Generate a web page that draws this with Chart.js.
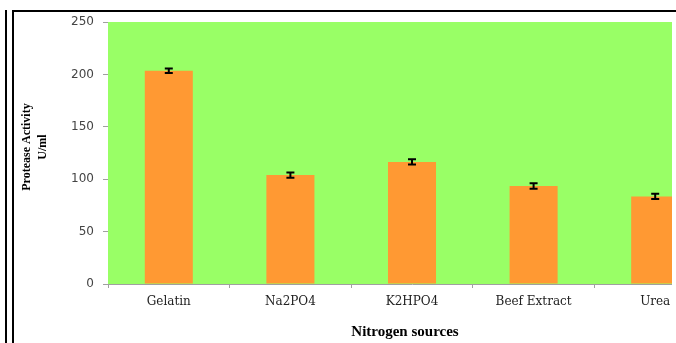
<!DOCTYPE html>
<html>
<head>
<meta charset="utf-8">
<script src="https://cdn.jsdelivr.net/npm/chart.js@4"></script>
<style>
    body { margin: 0; background: #fff; overflow: hidden; }
    #wrap { position: absolute; left: 0; top: 0; width: 672px; height: 343px; overflow: hidden; }
    #myChart { position: absolute; left: 0; top: 0; }
    .rule { position: absolute; background: #000; }
</style>
</head>
<body>
<div id="wrap"><canvas id="myChart" width="716" height="343"></canvas></div>
<div class="rule" style="left:5px;top:10px;width:2px;height:333px"></div>
<div class="rule" style="left:12px;top:10px;width:2px;height:333px"></div>
<div class="rule" style="left:12px;top:10px;width:664px;height:2px"></div>
<script>
// nitrogen sources vs protease activity
const sources = ["Gelatin", "Na2PO4", "K2HPO4", "Beef Extract", "Urea"]
const activity = [203.5, 104, 116.5, 93.5, 83.5]
const errors = [2.2, 2.5, 2.5, 2.7, 2.5]
const yTicks = [0, 50, 100, 150, 200, 250]

const plotBg = {
    id: 'plotBg',
    beforeDatasetsDraw(chart) {
        const { ctx, chartArea } = chart
        ctx.save()
        ctx.fillStyle = '#99ff66'
        ctx.fillRect(chartArea.left, chartArea.top, chartArea.right - chartArea.left, chartArea.bottom - chartArea.top)
        ctx.restore()
    }
}

const errorBars = {
    id: 'errorBars',
    afterDatasetsDraw(chart) {
        const { ctx } = chart
        const y = chart.scales.y
        const meta = chart.getDatasetMeta(0)
        ctx.save()
        ctx.strokeStyle = '#000'
        ctx.lineWidth = 2
        meta.data.forEach((bar, i) => {
            const top = y.getPixelForValue(activity[i] + errors[i])
            const bottom = y.getPixelForValue(activity[i] - errors[i])
            ctx.beginPath()
            ctx.moveTo(bar.x, top)
            ctx.lineTo(bar.x, bottom)
            ctx.moveTo(bar.x - 4, top)
            ctx.lineTo(bar.x + 4, top)
            ctx.moveTo(bar.x - 4, bottom)
            ctx.lineTo(bar.x + 4, bottom)
            ctx.stroke()
        })
        ctx.restore()
    }
}

const axisTitles = {
    id: 'axisTitles',
    afterDraw(chart) {
        const { ctx } = chart
        ctx.save()
        ctx.fillStyle = '#000'
        ctx.textAlign = 'center'
        ctx.textBaseline = 'middle'
        ctx.font = 'bold 15px "Liberation Serif"'
        ctx.fillText('Nitrogen sources', 405, 332)
        ctx.translate(35, 147)
        ctx.rotate(-Math.PI / 2)
        ctx.font = 'bold 12px "Liberation Serif"'
        ctx.fillText('Protease Activity', 0, -8)
        ctx.fillText('U/ml', 0, 8)
        ctx.restore()
    }
}

new Chart(document.getElementById('myChart'), {
    type: 'bar',
    data: {
        labels: sources,
        datasets: [{
            data: activity,
            backgroundColor: '#ff9933',
            borderWidth: 0,
            categoryPercentage: 1,
            barPercentage: 0.395
        }]
    },
    options: {
        responsive: false,
        animation: false,
        layout: { padding: { top: 22, left: 0, right: 0, bottom: 0 } },
        plugins: { legend: { display: false }, tooltip: { enabled: false } },
        scales: {
            x: {
                afterFit: s => { s.height = 59 },
                grid: { drawOnChartArea: false, drawTicks: true, tickLength: 4, color: '#a0a0a0', offset: true },
                border: { display: true, color: '#a0a0a0' },
                ticks: { color: '#222', padding: 7, font: { family: '"DejaVu Serif"', size: 12 }, maxRotation: 0 }
            },
            y: {
                min: 0,
                max: 250,
                afterFit: s => { s.width = 108 },
                afterBuildTicks: s => { s.ticks = yTicks.map(v => ({ value: v })) },
                grid: { drawOnChartArea: false, drawTicks: true, tickLength: 5, color: '#a0a0a0' },
                border: { display: true, color: '#a0a0a0' },
                ticks: { color: '#444', padding: 9, font: { family: '"DejaVu Sans"', size: 12 } }
            }
        }
    },
    plugins: [plotBg, errorBars, axisTitles]
})
</script>
</body>
</html>
